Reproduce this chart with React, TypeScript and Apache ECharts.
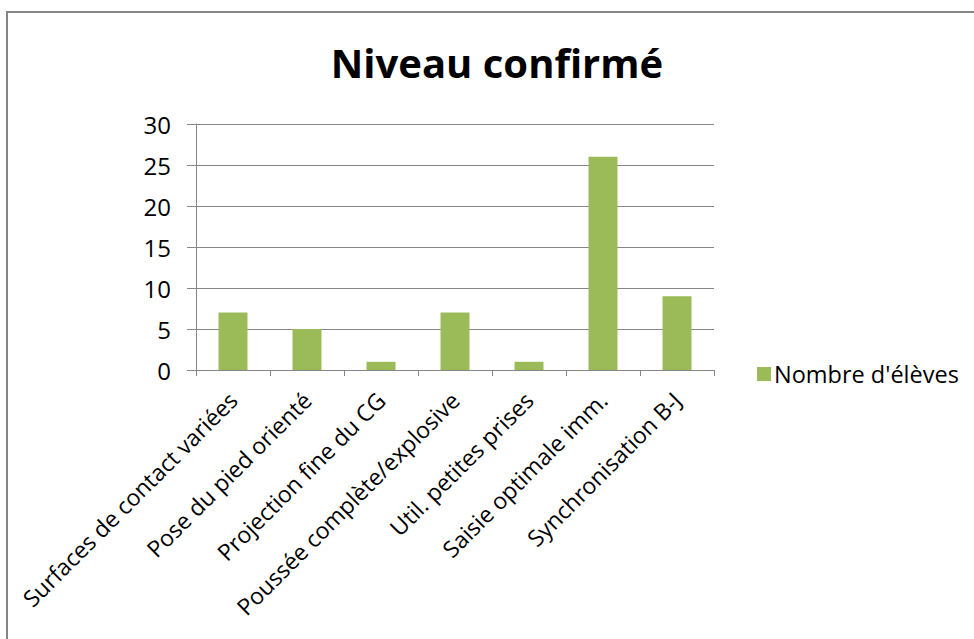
import React, { useEffect, useRef } from "react";
import * as echarts from "echarts";

const categories = [
  "Surfaces de contact variées",
  "Pose du pied orienté",
  "Projection fine du CG",
  "Poussée complète/explosive",
  "Util. petites prises",
  "Saisie optimale imm.",
  "Synchronisation B-J",
];
const values = [7, 5, 1, 7, 1, 26, 9];
const seriesName = "Nombre d'élèves";
const titleText = "Niveau confirmé";

const FONT = "'Open Sans', 'Noto Sans', sans-serif";
const GRID = "#868686";

export default function App() {
  const ref = useRef<HTMLDivElement>(null);
  useEffect(() => {
    if (!ref.current) return;
    const chart = echarts.init(ref.current, null, { renderer: "svg" });
    chart.setOption({
      animation: false,
      backgroundColor: "#ffffff",
      textStyle: { fontFamily: FONT },
      graphic: [
        {
          type: "rect",
          shape: { x: 7, y: 12, width: 1000, height: 700 },
          style: { fill: "none", stroke: GRID, lineWidth: 2 },
          silent: true,
        },
        {
          type: "text",
          x: 497,
          y: 62,
          style: {
            text: titleText,
            font: `bold 40px ${FONT}`,
            fill: "#000",
            align: "center",
            verticalAlign: "middle",
          },
        },
      ],
      legend: {
        left: 752,
        top: 357,
        itemWidth: 14,
        itemHeight: 14,
        itemGap: 6,
        icon: "rect",
        textStyle: { fontSize: 23.5, color: "#000", fontFamily: FONT, padding: [0, 0, 0, -2] },
        data: [seriesName],
      },
      grid: { left: 196, right: 260, top: 124, bottom: 269, containLabel: false },
      xAxis: {
        type: "category",
        data: categories,
        axisLine: { lineStyle: { color: GRID, width: 1 } },
        axisTick: { show: true, length: 6, alignWithLabel: false, lineStyle: { color: GRID } },
        axisLabel: {
          rotate: 45,
          interval: 0,
          margin: 26,
          fontSize: 23,
          color: "#000",
          fontFamily: FONT,
        },
      },
      yAxis: {
        type: "value",
        min: 0,
        max: 30,
        interval: 5,
        axisLine: { show: true, lineStyle: { color: GRID, width: 1 } },
        axisTick: { show: true, length: 9, inside: false, lineStyle: { color: GRID } },
        splitLine: { show: true, lineStyle: { color: GRID, width: 1 } },
        axisLabel: { fontSize: 24, color: "#000", margin: 25, fontFamily: FONT },
      },
      series: [
        {
          name: seriesName,
          type: "bar",
          data: values,
          barWidth: 29,
          itemStyle: { color: "#9BBB59" },
        },
      ],
    });
    return () => chart.dispose();
  }, []);
  return (
    <div
      ref={ref}
      style={{ position: "fixed", left: 0, top: 0, width: 974, height: 639 }}
    />
  );
}
